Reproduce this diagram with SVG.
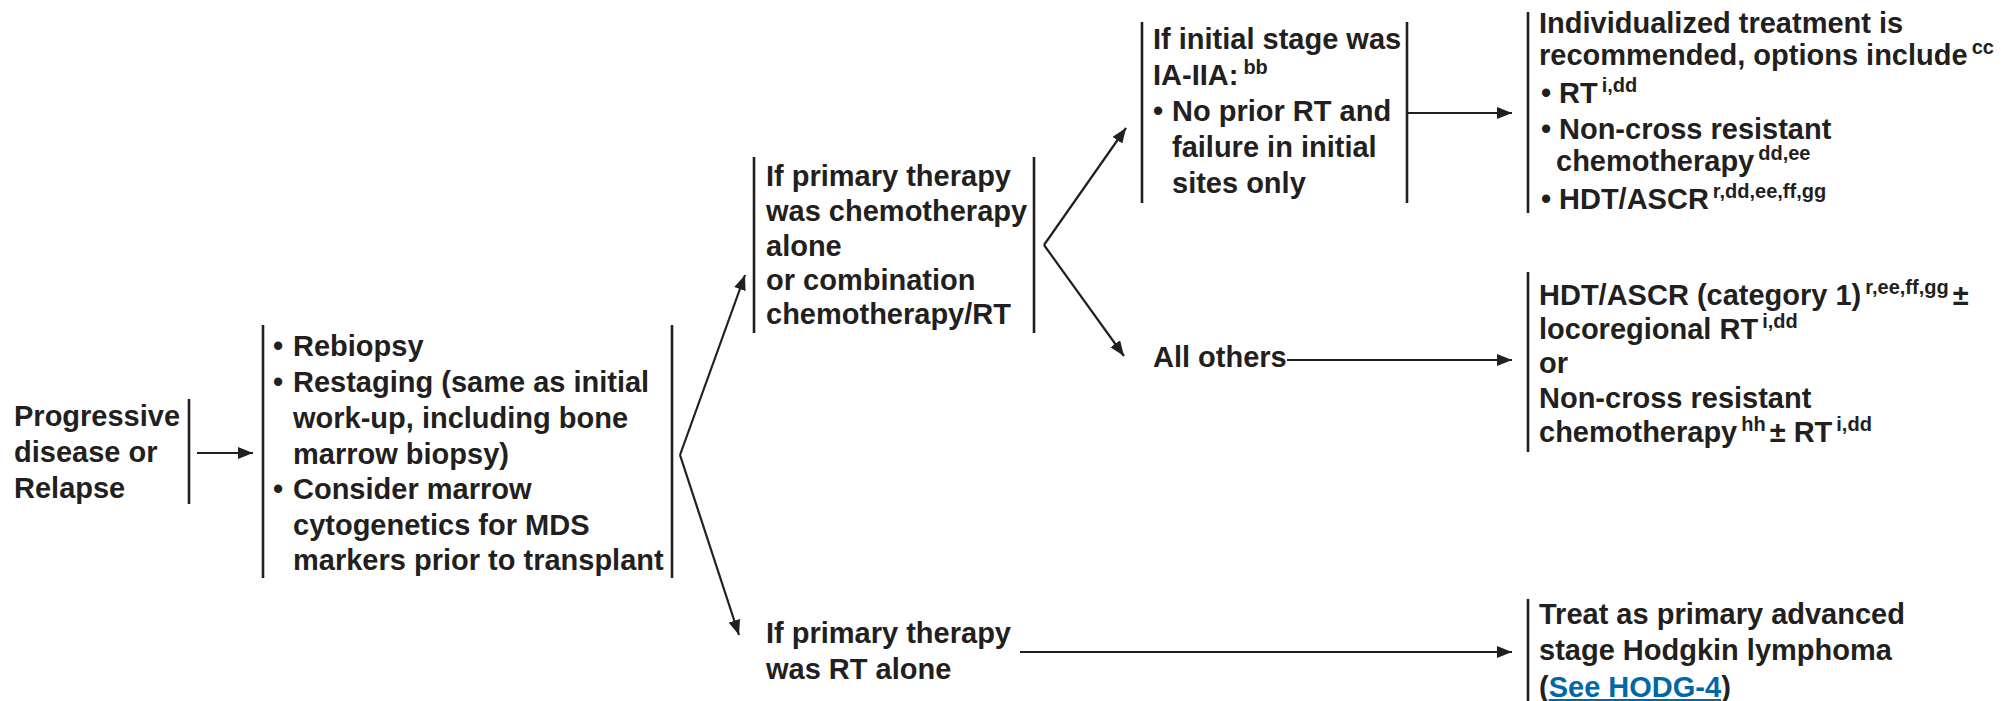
<svg xmlns="http://www.w3.org/2000/svg" width="2001" height="701" viewBox="0 0 2001 701">
  <style>
    text { font-family: "Liberation Sans", Arial, sans-serif; font-weight: bold; font-size: 29px; fill: #231f20; }
    .sup { font-size: 20px; }
    .bar { stroke: #231f20; stroke-width: 2.6; fill: none; }
    .conn { stroke: #231f20; stroke-width: 2.2; fill: none; }
    .link { fill: #0068a5; text-decoration: underline; }
  </style>
  <defs>
    <marker id="arrow" markerUnits="userSpaceOnUse" markerWidth="16" markerHeight="12" refX="15" refY="6" orient="auto">
      <path d="M0,0 L15,6 L0,12 z" fill="#231f20"/>
    </marker>
  </defs>

  <!-- Progressive disease / relapse -->
  <g id="n1">
    <text x="14" y="426">Progressive</text>
    <text x="14" y="462">disease or</text>
    <text x="14" y="498">Relapse</text>
    <line class="bar" x1="189" y1="399" x2="189" y2="504"/>
  </g>

  <!-- Work-up -->
  <g id="n2">
    <line class="bar" x1="263" y1="325" x2="263" y2="578"/>
    <line class="bar" x1="672" y1="325" x2="672" y2="578"/>
    <text x="273" y="356">•</text><text x="293" y="356">Rebiopsy</text>
    <text x="273" y="392">•</text><text x="293" y="392">Restaging (same as initial</text>
    <text x="293" y="428">work-up, including bone</text>
    <text x="293" y="464">marrow biopsy)</text>
    <text x="273" y="499">•</text><text x="293" y="499">Consider marrow</text>
    <text x="293" y="535">cytogenetics for MDS</text>
    <text x="293" y="570">markers prior to transplant</text>
  </g>

  <!-- Primary therapy: chemotherapy / combined -->
  <g id="n3">
    <line class="bar" x1="754" y1="157" x2="754" y2="333"/>
    <line class="bar" x1="1034" y1="157" x2="1034" y2="333"/>
    <text x="766" y="186">If primary therapy</text>
    <text x="766" y="221">was chemotherapy</text>
    <text x="766" y="256">alone</text>
    <text x="766" y="290">or combination</text>
    <text x="766" y="324">chemotherapy/RT</text>
  </g>

  <!-- Initial stage IA-IIA -->
  <g id="n4">
    <line class="bar" x1="1142" y1="22" x2="1142" y2="203"/>
    <line class="bar" x1="1407" y1="22" x2="1407" y2="203"/>
    <text x="1153" y="49">If initial stage was</text>
    <text x="1153" y="85">IA-IIA:<tspan class="sup" dx="5" dy="-11">bb</tspan></text>
    <text x="1153" y="121">•</text><text x="1172" y="121">No prior RT and</text>
    <text x="1172" y="157">failure in initial</text>
    <text x="1172" y="193">sites only</text>
  </g>

  <!-- Individualized treatment -->
  <g id="n5">
    <line class="bar" x1="1528" y1="12" x2="1528" y2="213"/>
    <text x="1539" y="33">Individualized treatment is</text>
    <text x="1539" y="65">recommended, options include<tspan class="sup" dx="4" dy="-11">cc</tspan></text>
    <text x="1541" y="103">•</text><text x="1559" y="103">RT<tspan class="sup" dx="4" dy="-11">i,dd</tspan></text>
    <text x="1541" y="139">•</text><text x="1559" y="139">Non-cross resistant</text>
    <text x="1556" y="171">chemotherapy<tspan class="sup" dx="4" dy="-11">dd,ee</tspan></text>
    <text x="1541" y="209">•</text><text x="1559" y="209">HDT/ASCR<tspan class="sup" dx="4" dy="-11">r,dd,ee,ff,gg</tspan></text>
  </g>

  <!-- All others -->
  <g id="n6">
    <text x="1153" y="367">All others</text>
  </g>

  <!-- HDT/ASCR or chemotherapy -->
  <g id="n7">
    <line class="bar" x1="1528" y1="272" x2="1528" y2="452"/>
    <text x="1539" y="305">HDT/ASCR (category 1)<tspan class="sup" dx="4" dy="-11">r,ee,ff,gg</tspan><tspan dx="4" dy="11">±</tspan></text>
    <text x="1539" y="339">locoregional RT<tspan class="sup" dx="4" dy="-11">i,dd</tspan></text>
    <text x="1539" y="373">or</text>
    <text x="1539" y="408">Non-cross resistant</text>
    <text x="1539" y="442">chemotherapy<tspan class="sup" dx="4" dy="-11">hh</tspan><tspan dx="4" dy="11">± RT</tspan><tspan class="sup" dx="4" dy="-11">i,dd</tspan></text>
  </g>

  <!-- Primary therapy: RT alone -->
  <g id="n8">
    <text x="766" y="643">If primary therapy</text>
    <text x="766" y="679">was RT alone</text>
  </g>

  <!-- Advanced stage treatment -->
  <g id="n9">
    <line class="bar" x1="1528" y1="599" x2="1528" y2="701"/>
    <text x="1539" y="624">Treat as primary advanced</text>
    <text x="1539" y="660">stage Hodgkin lymphoma</text>
    <text x="1539" y="697">(<tspan class="link">See HODG-4</tspan>)</text>
  </g>

  <!-- Connectors -->
  <g id="connectors">
    <line class="conn" x1="197" y1="453" x2="253" y2="453" marker-end="url(#arrow)"/>
    <line class="conn" x1="680" y1="455" x2="745" y2="275" marker-end="url(#arrow)"/>
    <line class="conn" x1="680" y1="455" x2="739" y2="635" marker-end="url(#arrow)"/>
    <line class="conn" x1="1044" y1="245" x2="1126" y2="128" marker-end="url(#arrow)"/>
    <line class="conn" x1="1044" y1="245" x2="1124" y2="356" marker-end="url(#arrow)"/>
    <line class="conn" x1="1407" y1="113" x2="1512" y2="113" marker-end="url(#arrow)"/>
    <line class="conn" x1="1287" y1="360" x2="1512" y2="360" marker-end="url(#arrow)"/>
    <line class="conn" x1="1020" y1="652" x2="1512" y2="652" marker-end="url(#arrow)"/>
  </g>
</svg>
